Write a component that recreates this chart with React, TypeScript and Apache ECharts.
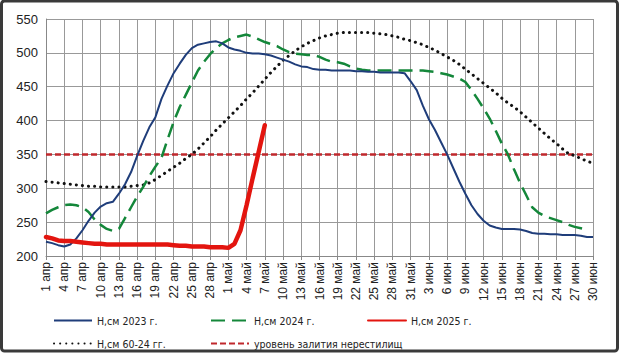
import React, { useEffect, useRef } from "react";
import * as echarts from "echarts";

const monthNames: [string, number][] = [["апр", 30], ["май", 31], ["июн", 30]];
const categories: string[] = [];
monthNames.forEach(([m, n]) => {
  for (let d = 1; d <= n; d++) categories.push(`${d} ${m}`);
});

const h2023 = [
  221, 219, 216, 214, 217, 226, 238, 252, 264, 273,
  278, 280, 292, 306, 324, 348, 370, 390, 405, 432,
  452, 470, 484, 497, 507, 512, 514, 516, 517, 514,
  508, 505, 503, 500, 499, 499, 498, 496, 493, 490,
  487, 483, 480, 479, 476, 475, 475, 474, 474, 474,
  474, 473, 473, 472, 472, 471, 471, 471, 471, 470,
  458, 445, 422, 402, 386, 368, 350, 330, 310, 292,
  275, 262, 252, 245, 242, 240, 240, 240, 239, 237,
  234, 233, 233, 232, 232, 231, 231, 231, 230, 228,
  228,
];

const h2024 = [
  263, 268, 272, 275, 276, 275, 272, 265, 254, 246,
  240, 237, 240, 256, 272, 288, 302, 318, 332, 345,
  372, 398, 420, 438, 456, 474, 487, 498, 507, 514,
  519, 523, 525, 527, 524, 520, 516, 513, 510, 505,
  501, 499, 498, 497, 497, 494, 490, 487, 486, 484,
  480, 477, 475, 474, 474, 474, 474, 474, 474, 474,
  474, 474, 474, 473, 472, 470, 468, 465, 462, 457,
  445, 432, 418, 403, 385, 366, 350, 328, 308, 290,
  272, 264, 259, 256, 253, 250, 246, 243, 241, 239,
  null,
];

const h2025 = [
  228, 226, 223, 222, 222, 221, 220, 219, 218, 218,
  217, 217, 217, 217, 217, 217, 217, 217, 217, 217,
  217, 216, 215, 215, 214, 214, 214, 213, 213, 213,
  212, 218, 238, 275, 315, 354, 393,
];

const hAvg = [
  310, 309, 308, 307, 306, 305, 304, 303, 303, 302,
  302, 302, 302, 302, 303, 304, 305, 308, 313, 319,
  325, 331, 337, 344, 350, 358, 367, 376, 386, 395,
  404, 413, 422, 432, 441, 451, 461, 471, 480, 489,
  496, 503, 509, 514, 518, 522, 525, 527, 529, 530,
  530, 530, 530, 530, 529, 528, 527, 525, 523, 520,
  518, 515, 512, 508, 504, 499, 494, 489, 483, 476,
  469, 462, 455, 448, 441, 433, 426, 420, 413, 405,
  397, 389, 381, 373, 366, 358, 351, 348, 344, 340,
  337,
];

const floodLevel = 350;
const hFlood = categories.map(() => floodLevel);

const names = {
  s2023: "Н,см 2023 г.",
  s2024: "Н,см 2024 г.",
  s2025: "Н,см 2025 г.",
  avg: "Н,см 60-24 гг.",
  flood: "уровень залития нерестилищ",
};

const yMin = 200;
const yMax = 550;
const yStep = 50;

const FONT = "'Liberation Sans', Arial, sans-serif";
const NARROW = "'Liberation Sans Narrow', 'Arial Narrow', 'DejaVu Sans Condensed', 'Liberation Sans', sans-serif";

export default function App() {
  const ref = useRef<HTMLDivElement>(null);

  useEffect(() => {
    document.body.style.margin = "0";
    if (!ref.current) return;
    const chart = echarts.init(ref.current, undefined, { renderer: "svg" });
    const legendBase = {
      orient: "horizontal",
      itemWidth: 38,
      itemHeight: 12,
      itemGap: 4,
      itemStyle: { opacity: 0 },
      textStyle: { fontSize: 10.5, color: "#222", fontFamily: NARROW },
      selectedMode: false,
    };
    chart.setOption({
      animation: false,
      backgroundColor: "#fff",
      grid: { left: 46, top: 19, right: 27, bottom: 97, containLabel: false },
      xAxis: {
        type: "category",
        data: categories,
        boundaryGap: false,
        axisLine: { show: true, lineStyle: { color: "#888", width: 1 } },
        axisTick: { show: true, interval: 2, length: 4, lineStyle: { color: "#888" } },
        axisLabel: {
          interval: 2,
          rotate: 90,
          fontSize: 12,
          color: "#222",
          fontFamily: FONT,
          margin: 6,
        },
        splitLine: { show: true, interval: 2, lineStyle: { color: "#999", width: 1 } },
      },
      yAxis: {
        type: "value",
        min: yMin,
        max: yMax,
        interval: yStep,
        axisLine: { show: true, lineStyle: { color: "#888" } },
        axisTick: { show: false },
        axisLabel: { fontSize: 13, color: "#222", fontFamily: FONT, margin: 8 },
        splitLine: { show: true, lineStyle: { color: "#999", width: 1 } },
      },
      legend: [
        { ...legendBase, data: [names.s2023], left: 48, top: 310 },
        { ...legendBase, data: [names.s2024], left: 205, top: 310 },
        { ...legendBase, data: [names.s2025], left: 362, top: 310 },
        { ...legendBase, data: [names.avg], left: 48, top: 333 },
        { ...legendBase, data: [names.flood], left: 205, top: 333 },
      ],
      graphic: [
        {
          type: "rect",
          shape: { x: 1.5, y: 1, width: 616, height: 350, r: 3 },
          style: { fill: "none", stroke: "#3a3a3a", lineWidth: 3 },
          silent: true,
          z: 100,
        },
      ],
      series: [
        {
          name: names.flood,
          type: "line",
          data: hFlood,
          showSymbol: false,
          symbol: "none",
          lineStyle: { color: "#c0282d", width: 2.5, type: [6, 3] },
          itemStyle: { color: "#c0282d" },
          z: 3,
        },
        {
          name: names.avg,
          type: "line",
          data: hAvg,
          showSymbol: false,
          symbol: "none",
          lineStyle: { color: "#111", width: 3, type: [0.1, 6], cap: "round" },
          itemStyle: { color: "#111" },
          z: 4,
        },
        {
          name: names.s2024,
          type: "line",
          data: h2024,
          showSymbol: false,
          symbol: "none",
          lineStyle: { color: "#14873a", width: 2.5, type: [14, 7] },
          itemStyle: { color: "#14873a" },
          z: 5,
        },
        {
          name: names.s2023,
          type: "line",
          data: h2023,
          showSymbol: false,
          symbol: "none",
          lineStyle: { color: "#1f3d7a", width: 2 },
          itemStyle: { color: "#1f3d7a" },
          z: 6,
        },
        {
          name: names.s2025,
          type: "line",
          data: h2025,
          showSymbol: false,
          symbol: "none",
          lineStyle: { color: "#e3150f", width: 4.5, cap: "round" },
          itemStyle: { color: "#e3150f" },
          z: 7,
        },
      ],
    });
    return () => chart.dispose();
  }, []);

  return <div ref={ref} style={{ width: 620, height: 353 }} />;
}
